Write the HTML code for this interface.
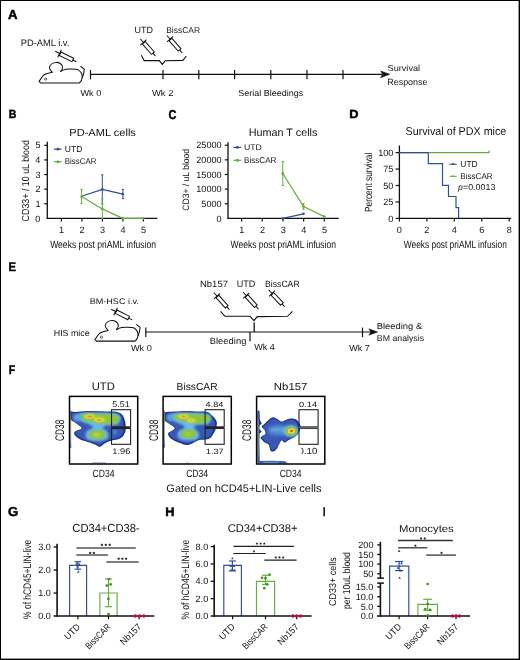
<!DOCTYPE html><html><head><meta charset="utf-8"><style>html,body{margin:0;padding:0;background:#fff;}svg{display:block;font-family:"Liberation Sans",sans-serif;text-rendering:geometricPrecision;will-change:transform;}</style></head><body><svg width="520" height="660" viewBox="0 0 520 660"><rect x="0" y="0" width="520" height="660" fill="#000"/>
<rect x="1" y="1" width="517.6" height="657.6" fill="#fff"/>
<text x="8.09" y="18.58" font-size="12.99" font-weight="bold" font-style="normal" textLength="9.55" lengthAdjust="spacingAndGlyphs" fill="#000" stroke="#000" stroke-width="0.45">A</text>
<text x="8.63" y="118.28" font-size="11.83" font-weight="bold" font-style="normal" textLength="7.65" lengthAdjust="spacingAndGlyphs" fill="#000" stroke="#000" stroke-width="0.45">B</text>
<text x="168.38" y="118.68" font-size="12.80" font-weight="bold" font-style="normal" textLength="7.89" lengthAdjust="spacingAndGlyphs" fill="#000" stroke="#000" stroke-width="0.45">C</text>
<text x="349.29" y="118.28" font-size="11.83" font-weight="bold" font-style="normal" textLength="9.23" lengthAdjust="spacingAndGlyphs" fill="#000" stroke="#000" stroke-width="0.45">D</text>
<text x="8.49" y="271.38" font-size="12.41" font-weight="bold" font-style="normal" textLength="7.51" lengthAdjust="spacingAndGlyphs" fill="#000" stroke="#000" stroke-width="0.45">E</text>
<text x="8.64" y="373.68" font-size="12.41" font-weight="bold" font-style="normal" textLength="6.42" lengthAdjust="spacingAndGlyphs" fill="#000" stroke="#000" stroke-width="0.45">F</text>
<text x="8.09" y="515.98" font-size="13.09" font-weight="bold" font-style="normal" textLength="10.32" lengthAdjust="spacingAndGlyphs" fill="#000" stroke="#000" stroke-width="0.45">G</text>
<text x="165.39" y="515.68" font-size="12.55" font-weight="bold" font-style="normal" textLength="9.25" lengthAdjust="spacingAndGlyphs" fill="#000" stroke="#000" stroke-width="0.45">H</text>
<text x="322.96" y="515.78" font-size="12.41" font-weight="bold" font-style="normal" textLength="2.41" lengthAdjust="spacingAndGlyphs" fill="#000" stroke="#000" stroke-width="0.45">I</text>
<g transform="translate(0,0)" stroke="#111" fill="none" stroke-width="1.05" stroke-linejoin="round">
<path d="M39.1,81.4 L40.6,82.9 L79.3,82.9 C81,81.5 82.3,78 82.2,75.9 C82,73.5 80,71 77.9,69.6 C75,68.8 68,68.8 65.8,69.3 C64,69.7 62,70.6 60.6,71.5 C62.2,70 62.8,68 62.5,66.7 C62,64 59,62.3 56.2,62.4 C53,62.5 50,64.5 49.5,67.2 C49.3,68.8 50.2,70 52.4,72.3 L47.2,73.6 C45,74.3 43.5,75 42.6,76.3 L39.1,81.4 Z"/><path d="M80.5,66.25 L84.3,69.1 C84.2,71 83.5,75 82.2,77.8"/><circle cx="45.65" cy="79" r="1.15" stroke-width="0.65"/>
</g>
<g transform="translate(55.2,51.3) rotate(26.2) scale(1.0)" stroke="#111" fill="none" stroke-width="1.0">
<line x1="0" y1="0" x2="5.5" y2="0"/><line x1="4.9" y1="-4.2" x2="4.9" y2="4.2"/><rect x="5.5" y="-1.9" width="14.1" height="3.8"/><line x1="19.6" y1="0" x2="23.6" y2="0"/>
</g>
<g transform="translate(140.2,38.7) rotate(48.7) scale(0.98)" stroke="#111" fill="none" stroke-width="1.0">
<line x1="0" y1="0" x2="5.5" y2="0"/><line x1="4.9" y1="-4.2" x2="4.9" y2="4.2"/><rect x="5.5" y="-1.9" width="14.1" height="3.8"/><line x1="19.6" y1="0" x2="23.6" y2="0"/>
</g>
<g transform="translate(166.9,35.5) rotate(48.6) scale(0.98)" stroke="#111" fill="none" stroke-width="1.0">
<line x1="0" y1="0" x2="5.5" y2="0"/><line x1="4.9" y1="-4.2" x2="4.9" y2="4.2"/><rect x="5.5" y="-1.9" width="14.1" height="3.8"/><line x1="19.6" y1="0" x2="23.6" y2="0"/>
</g>
<path d="M141.3,55.2 L144.2,60.6 L159.2,60.6 L162.3,64.4 L165.2,60.8 L182.9,60.4 L186.3,56" stroke="#111" stroke-width="1.1" fill="none"/>
<line x1="90.5" y1="74.3" x2="382" y2="74.3" stroke="#111" stroke-width="1.2"/>
<line x1="90.5" y1="70" x2="90.5" y2="79.3" stroke="#111" stroke-width="1.2"/>
<line x1="163" y1="70" x2="163" y2="79.3" stroke="#111" stroke-width="1.2"/>
<line x1="198.8" y1="70" x2="198.8" y2="79.3" stroke="#111" stroke-width="1.2"/>
<line x1="234.6" y1="70" x2="234.6" y2="79.3" stroke="#111" stroke-width="1.2"/>
<line x1="270.8" y1="70" x2="270.8" y2="79.3" stroke="#111" stroke-width="1.2"/>
<line x1="307" y1="70" x2="307" y2="79.3" stroke="#111" stroke-width="1.2"/>
<line x1="343" y1="70" x2="343" y2="79.3" stroke="#111" stroke-width="1.2"/>
<path d="M389.8,74.3 L380.6,70.9 L382.6,74.3 L380.6,77.7 Z" stroke="#111" stroke-width="0.5" fill="#111"/>
<text x="20.76" y="46.00" font-size="9.38" font-weight="normal" font-style="normal" textLength="48.61" lengthAdjust="spacingAndGlyphs" fill="#111">PD-AML i.v.</text>
<text x="134.53" y="33.10" font-size="8.99" font-weight="normal" font-style="normal" textLength="18.37" lengthAdjust="spacingAndGlyphs" fill="#111">UTD</text>
<text x="166.22" y="33.00" font-size="8.55" font-weight="normal" font-style="normal" textLength="33.76" lengthAdjust="spacingAndGlyphs" fill="#111">BissCAR</text>
<text x="80.45" y="95.60" font-size="8.69" font-weight="normal" font-style="normal" textLength="20.89" lengthAdjust="spacingAndGlyphs" fill="#111">Wk 0</text>
<text x="151.95" y="95.60" font-size="8.69" font-weight="normal" font-style="normal" textLength="21.55" lengthAdjust="spacingAndGlyphs" fill="#111">Wk 2</text>
<text x="238.35" y="95.50" font-size="8.69" font-weight="normal" font-style="normal" textLength="64.99" lengthAdjust="spacingAndGlyphs" fill="#111">Serial Bleedings</text>
<text x="387.59" y="70.60" font-size="8.55" font-weight="normal" font-style="normal" textLength="32.52" lengthAdjust="spacingAndGlyphs" fill="#111">Survival</text>
<text x="387.29" y="85.00" font-size="8.99" font-weight="normal" font-style="normal" textLength="40.14" lengthAdjust="spacingAndGlyphs" fill="#111">Response</text>
<text x="69.32" y="135.90" font-size="10.34" font-weight="normal" font-style="normal" textLength="66.57" lengthAdjust="spacingAndGlyphs" fill="#111">PD-AML cells</text>
<line x1="47.3" y1="141.8" x2="47.3" y2="219.0" stroke="#111" stroke-width="1.3"/>
<line x1="46.699999999999996" y1="218.4" x2="157.3" y2="218.4" stroke="#111" stroke-width="1.3"/>
<line x1="44.2" y1="203.78" x2="47.3" y2="203.78" stroke="#111" stroke-width="1.2"/>
<line x1="44.2" y1="189.16" x2="47.3" y2="189.16" stroke="#111" stroke-width="1.2"/>
<line x1="44.2" y1="174.54000000000002" x2="47.3" y2="174.54000000000002" stroke="#111" stroke-width="1.2"/>
<line x1="44.2" y1="159.92000000000002" x2="47.3" y2="159.92000000000002" stroke="#111" stroke-width="1.2"/>
<line x1="44.2" y1="145.3" x2="47.3" y2="145.3" stroke="#111" stroke-width="1.2"/>
<line x1="61.4" y1="218.4" x2="61.4" y2="221.6" stroke="#111" stroke-width="1.2"/>
<line x1="81.9" y1="218.4" x2="81.9" y2="221.6" stroke="#111" stroke-width="1.2"/>
<line x1="102.4" y1="218.4" x2="102.4" y2="221.6" stroke="#111" stroke-width="1.2"/>
<line x1="122.9" y1="218.4" x2="122.9" y2="221.6" stroke="#111" stroke-width="1.2"/>
<line x1="143.4" y1="218.4" x2="143.4" y2="221.6" stroke="#111" stroke-width="1.2"/>
<text x="35.37" y="221.55" font-size="9.10" font-weight="normal" font-style="normal" textLength="5.06" lengthAdjust="spacingAndGlyphs" fill="#111">0</text>
<text x="35.46" y="206.93" font-size="9.10" font-weight="normal" font-style="normal" textLength="5.06" lengthAdjust="spacingAndGlyphs" fill="#111">1</text>
<text x="35.50" y="192.31" font-size="9.10" font-weight="normal" font-style="normal" textLength="5.06" lengthAdjust="spacingAndGlyphs" fill="#111">2</text>
<text x="35.41" y="177.69" font-size="9.10" font-weight="normal" font-style="normal" textLength="5.06" lengthAdjust="spacingAndGlyphs" fill="#111">3</text>
<text x="35.32" y="163.07" font-size="9.10" font-weight="normal" font-style="normal" textLength="5.06" lengthAdjust="spacingAndGlyphs" fill="#111">4</text>
<text x="35.41" y="148.45" font-size="9.10" font-weight="normal" font-style="normal" textLength="5.06" lengthAdjust="spacingAndGlyphs" fill="#111">5</text>
<text x="58.94" y="232.80" font-size="9.10" font-weight="normal" font-style="normal" textLength="5.06" lengthAdjust="spacingAndGlyphs" fill="#111">1</text>
<text x="79.57" y="232.80" font-size="9.10" font-weight="normal" font-style="normal" textLength="5.06" lengthAdjust="spacingAndGlyphs" fill="#111">2</text>
<text x="100.07" y="232.80" font-size="9.10" font-weight="normal" font-style="normal" textLength="5.06" lengthAdjust="spacingAndGlyphs" fill="#111">3</text>
<text x="120.62" y="232.80" font-size="9.10" font-weight="normal" font-style="normal" textLength="5.06" lengthAdjust="spacingAndGlyphs" fill="#111">4</text>
<text x="141.07" y="232.80" font-size="9.10" font-weight="normal" font-style="normal" textLength="5.06" lengthAdjust="spacingAndGlyphs" fill="#111">5</text>
<text x="50.16" y="247.60" font-size="10.48" font-weight="normal" font-style="normal" textLength="105.89" lengthAdjust="spacingAndGlyphs" fill="#111">Weeks post priAML infusion</text>
<text x="-221.44" y="28.90" font-size="10.21" font-weight="normal" font-style="normal" textLength="81.31" lengthAdjust="spacingAndGlyphs" fill="#111" transform="rotate(-90)">CD33+ / 10 uL blood</text>
<line x1="81.6" y1="196.3" x2="102.3" y2="189.4" stroke="#2f4f92" stroke-width="1.2"/>
<line x1="102.3" y1="189.4" x2="122.9" y2="194.1" stroke="#2f4f92" stroke-width="1.2"/>
<line x1="102.3" y1="174.8" x2="102.3" y2="204.0" stroke="#2f4f92" stroke-width="1.0"/>
<line x1="101.2" y1="174.8" x2="103.39999999999999" y2="174.8" stroke="#2f4f92" stroke-width="1.0"/>
<line x1="101.2" y1="204.0" x2="103.39999999999999" y2="204.0" stroke="#2f4f92" stroke-width="1.0"/>
<line x1="122.9" y1="189.4" x2="122.9" y2="198.6" stroke="#2f4f92" stroke-width="1.0"/>
<line x1="121.80000000000001" y1="189.4" x2="124.0" y2="189.4" stroke="#2f4f92" stroke-width="1.0"/>
<line x1="121.80000000000001" y1="198.6" x2="124.0" y2="198.6" stroke="#2f4f92" stroke-width="1.0"/>
<circle cx="102.3" cy="189.4" r="1.3" fill="#2f4f92"/>
<circle cx="122.9" cy="194.1" r="1.3" fill="#2f4f92"/>
<line x1="81.6" y1="196.4" x2="102.3" y2="208.9" stroke="#66ad3e" stroke-width="1.2"/>
<line x1="102.3" y1="208.9" x2="122.7" y2="218.4" stroke="#66ad3e" stroke-width="1.2"/>
<line x1="122.7" y1="218.4" x2="143.3" y2="218.4" stroke="#66ad3e" stroke-width="1.2"/>
<line x1="81.6" y1="189.4" x2="81.6" y2="203.6" stroke="#66ad3e" stroke-width="1.0"/>
<line x1="80.5" y1="189.4" x2="82.69999999999999" y2="189.4" stroke="#66ad3e" stroke-width="1.0"/>
<line x1="80.5" y1="203.6" x2="82.69999999999999" y2="203.6" stroke="#66ad3e" stroke-width="1.0"/>
<line x1="102.3" y1="198.8" x2="102.3" y2="218.4" stroke="#66ad3e" stroke-width="1.0"/>
<line x1="101.2" y1="198.8" x2="103.39999999999999" y2="198.8" stroke="#66ad3e" stroke-width="1.0"/>
<line x1="101.2" y1="218.4" x2="103.39999999999999" y2="218.4" stroke="#66ad3e" stroke-width="1.0"/>
<circle cx="81.6" cy="196.4" r="1.3" fill="#66ad3e"/>
<circle cx="102.3" cy="208.9" r="1.3" fill="#66ad3e"/>
<circle cx="122.7" cy="218.4" r="1.3" fill="#66ad3e"/>
<circle cx="143.3" cy="218.4" r="1.3" fill="#66ad3e"/>
<line x1="54" y1="149.2" x2="61.7" y2="149.2" stroke="#2f4f92" stroke-width="1.2"/>
<circle cx="57.9" cy="149.2" r="1.35" fill="#2f4f92"/>
<line x1="54" y1="161.7" x2="61.7" y2="161.7" stroke="#66ad3e" stroke-width="1.2"/>
<circle cx="57.9" cy="161.7" r="1.5" fill="#66ad3e"/>
<text x="64.86" y="151.90" font-size="8.70" font-weight="normal" font-style="normal" textLength="17.42" lengthAdjust="spacingAndGlyphs" fill="#111">UTD</text>
<text x="64.87" y="164.40" font-size="8.41" font-weight="normal" font-style="normal" textLength="31.49" lengthAdjust="spacingAndGlyphs" fill="#111">BissCAR</text>
<text x="248.74" y="135.80" font-size="10.76" font-weight="normal" font-style="normal" textLength="68.64" lengthAdjust="spacingAndGlyphs" fill="#111">Human T cells</text>
<line x1="228.0" y1="142.3" x2="228.0" y2="219.0" stroke="#111" stroke-width="1.3"/>
<line x1="227.4" y1="218.4" x2="338.8" y2="218.4" stroke="#111" stroke-width="1.3"/>
<line x1="224.8" y1="203.76" x2="228.0" y2="203.76" stroke="#111" stroke-width="1.2"/>
<line x1="224.8" y1="189.12" x2="228.0" y2="189.12" stroke="#111" stroke-width="1.2"/>
<line x1="224.8" y1="174.48000000000002" x2="228.0" y2="174.48000000000002" stroke="#111" stroke-width="1.2"/>
<line x1="224.8" y1="159.84" x2="228.0" y2="159.84" stroke="#111" stroke-width="1.2"/>
<line x1="224.8" y1="145.2" x2="228.0" y2="145.2" stroke="#111" stroke-width="1.2"/>
<line x1="241.6" y1="218.4" x2="241.6" y2="221.6" stroke="#111" stroke-width="1.2"/>
<line x1="262.28" y1="218.4" x2="262.28" y2="221.6" stroke="#111" stroke-width="1.2"/>
<line x1="282.96" y1="218.4" x2="282.96" y2="221.6" stroke="#111" stroke-width="1.2"/>
<line x1="303.64" y1="218.4" x2="303.64" y2="221.6" stroke="#111" stroke-width="1.2"/>
<line x1="324.32" y1="218.4" x2="324.32" y2="221.6" stroke="#111" stroke-width="1.2"/>
<text x="216.57" y="221.55" font-size="9.10" font-weight="normal" font-style="normal" textLength="5.06" lengthAdjust="spacingAndGlyphs" fill="#111">0</text>
<text x="201.37" y="206.91" font-size="9.10" font-weight="normal" font-style="normal" textLength="20.24" lengthAdjust="spacingAndGlyphs" fill="#111">5000</text>
<text x="196.32" y="192.27" font-size="9.10" font-weight="normal" font-style="normal" textLength="25.31" lengthAdjust="spacingAndGlyphs" fill="#111">10000</text>
<text x="196.32" y="177.63" font-size="9.10" font-weight="normal" font-style="normal" textLength="25.31" lengthAdjust="spacingAndGlyphs" fill="#111">15000</text>
<text x="196.32" y="162.99" font-size="9.10" font-weight="normal" font-style="normal" textLength="25.31" lengthAdjust="spacingAndGlyphs" fill="#111">20000</text>
<text x="196.32" y="148.35" font-size="9.10" font-weight="normal" font-style="normal" textLength="25.31" lengthAdjust="spacingAndGlyphs" fill="#111">25000</text>
<text x="239.14" y="232.80" font-size="9.10" font-weight="normal" font-style="normal" textLength="5.06" lengthAdjust="spacingAndGlyphs" fill="#111">1</text>
<text x="259.95" y="232.80" font-size="9.10" font-weight="normal" font-style="normal" textLength="5.06" lengthAdjust="spacingAndGlyphs" fill="#111">2</text>
<text x="280.63" y="232.80" font-size="9.10" font-weight="normal" font-style="normal" textLength="5.06" lengthAdjust="spacingAndGlyphs" fill="#111">3</text>
<text x="301.36" y="232.80" font-size="9.10" font-weight="normal" font-style="normal" textLength="5.06" lengthAdjust="spacingAndGlyphs" fill="#111">4</text>
<text x="321.99" y="232.80" font-size="9.10" font-weight="normal" font-style="normal" textLength="5.06" lengthAdjust="spacingAndGlyphs" fill="#111">5</text>
<text x="230.56" y="247.60" font-size="10.48" font-weight="normal" font-style="normal" textLength="105.39" lengthAdjust="spacingAndGlyphs" fill="#111">Weeks post priAML infusion</text>
<text x="-210.73" y="189.10" font-size="9.24" font-weight="normal" font-style="normal" textLength="61.81" lengthAdjust="spacingAndGlyphs" fill="#111" transform="rotate(-90)">CD3+ / uL blood</text>
<line x1="282.8" y1="218.4" x2="303.5" y2="213.8" stroke="#2f4f92" stroke-width="1.2"/>
<circle cx="282.8" cy="218.4" r="1.2" fill="#2f4f92"/>
<circle cx="303.5" cy="213.8" r="1.3" fill="#2f4f92"/>
<line x1="282.8" y1="173.5" x2="303.5" y2="206.5" stroke="#66ad3e" stroke-width="1.3"/>
<line x1="303.5" y1="206.5" x2="324.3" y2="216.6" stroke="#66ad3e" stroke-width="1.3"/>
<line x1="282.8" y1="161.5" x2="282.8" y2="185.5" stroke="#66ad3e" stroke-width="1.0"/>
<line x1="281.6" y1="161.5" x2="284.0" y2="161.5" stroke="#66ad3e" stroke-width="1.0"/>
<line x1="281.6" y1="185.5" x2="284.0" y2="185.5" stroke="#66ad3e" stroke-width="1.0"/>
<line x1="303.5" y1="203.5" x2="303.5" y2="209.2" stroke="#66ad3e" stroke-width="1.0"/>
<line x1="302.3" y1="203.5" x2="304.7" y2="203.5" stroke="#66ad3e" stroke-width="1.0"/>
<line x1="302.3" y1="209.2" x2="304.7" y2="209.2" stroke="#66ad3e" stroke-width="1.0"/>
<circle cx="282.8" cy="173.5" r="1.4" fill="#66ad3e"/>
<circle cx="303.5" cy="206.5" r="1.4" fill="#66ad3e"/>
<circle cx="324.3" cy="216.6" r="1.4" fill="#66ad3e"/>
<line x1="233.4" y1="147.4" x2="241.3" y2="147.4" stroke="#2f4f92" stroke-width="1.2"/>
<circle cx="237.4" cy="147.4" r="1.35" fill="#2f4f92"/>
<line x1="233.4" y1="160.3" x2="241.3" y2="160.3" stroke="#66ad3e" stroke-width="1.2"/>
<circle cx="237.4" cy="160.3" r="1.5" fill="#66ad3e"/>
<text x="244.05" y="150.10" font-size="8.12" font-weight="normal" font-style="normal" textLength="17.84" lengthAdjust="spacingAndGlyphs" fill="#111">UTD</text>
<text x="244.05" y="163.10" font-size="8.55" font-weight="normal" font-style="normal" textLength="32.31" lengthAdjust="spacingAndGlyphs" fill="#111">BissCAR</text>
<text x="405.52" y="134.90" font-size="11.45" font-weight="normal" font-style="normal" textLength="100.79" lengthAdjust="spacingAndGlyphs" fill="#111">Survival of PDX mice</text>
<line x1="399.4" y1="145.5" x2="399.4" y2="219.0" stroke="#111" stroke-width="1.3"/>
<line x1="398.79999999999995" y1="218.4" x2="511.1" y2="218.4" stroke="#111" stroke-width="1.3"/>
<line x1="395.6" y1="218.4" x2="399.4" y2="218.4" stroke="#111" stroke-width="1.2"/>
<line x1="395.6" y1="201.95000000000002" x2="399.4" y2="201.95000000000002" stroke="#111" stroke-width="1.2"/>
<line x1="395.6" y1="185.5" x2="399.4" y2="185.5" stroke="#111" stroke-width="1.2"/>
<line x1="395.6" y1="169.05" x2="399.4" y2="169.05" stroke="#111" stroke-width="1.2"/>
<line x1="395.6" y1="152.60000000000002" x2="399.4" y2="152.60000000000002" stroke="#111" stroke-width="1.2"/>
<line x1="399.4" y1="218.4" x2="399.4" y2="221.6" stroke="#111" stroke-width="1.2"/>
<line x1="426.84999999999997" y1="218.4" x2="426.84999999999997" y2="221.6" stroke="#111" stroke-width="1.2"/>
<line x1="454.29999999999995" y1="218.4" x2="454.29999999999995" y2="221.6" stroke="#111" stroke-width="1.2"/>
<line x1="481.75" y1="218.4" x2="481.75" y2="221.6" stroke="#111" stroke-width="1.2"/>
<line x1="509.2" y1="218.4" x2="509.2" y2="221.6" stroke="#111" stroke-width="1.2"/>
<text x="388.27" y="221.55" font-size="9.10" font-weight="normal" font-style="normal" textLength="5.06" lengthAdjust="spacingAndGlyphs" fill="#111">0</text>
<text x="383.26" y="205.10" font-size="9.10" font-weight="normal" font-style="normal" textLength="10.12" lengthAdjust="spacingAndGlyphs" fill="#111">25</text>
<text x="383.22" y="188.65" font-size="9.10" font-weight="normal" font-style="normal" textLength="10.12" lengthAdjust="spacingAndGlyphs" fill="#111">50</text>
<text x="383.26" y="172.20" font-size="9.10" font-weight="normal" font-style="normal" textLength="10.12" lengthAdjust="spacingAndGlyphs" fill="#111">75</text>
<text x="378.17" y="155.75" font-size="9.10" font-weight="normal" font-style="normal" textLength="15.18" lengthAdjust="spacingAndGlyphs" fill="#111">100</text>
<text x="396.85" y="232.80" font-size="9.10" font-weight="normal" font-style="normal" textLength="5.06" lengthAdjust="spacingAndGlyphs" fill="#111">0</text>
<text x="424.32" y="232.80" font-size="9.10" font-weight="normal" font-style="normal" textLength="5.06" lengthAdjust="spacingAndGlyphs" fill="#111">2</text>
<text x="451.82" y="232.80" font-size="9.10" font-weight="normal" font-style="normal" textLength="5.06" lengthAdjust="spacingAndGlyphs" fill="#111">4</text>
<text x="479.18" y="232.80" font-size="9.10" font-weight="normal" font-style="normal" textLength="5.06" lengthAdjust="spacingAndGlyphs" fill="#111">6</text>
<text x="506.65" y="232.80" font-size="9.10" font-weight="normal" font-style="normal" textLength="5.06" lengthAdjust="spacingAndGlyphs" fill="#111">8</text>
<text x="403.76" y="247.60" font-size="10.62" font-weight="normal" font-style="normal" textLength="103.18" lengthAdjust="spacingAndGlyphs" fill="#111">Weeks post priAML infusion</text>
<text x="-212.07" y="371.60" font-size="10.34" font-weight="normal" font-style="normal" textLength="59.44" lengthAdjust="spacingAndGlyphs" fill="#111" transform="rotate(-90)">Percent survival</text>
<path d="M399.4,152.6 L489,152.6 L489,150.4" stroke="#66ad3e" stroke-width="1.1" fill="none"/>
<path d="M399.4,152.6 L428.3,152.6 L428.3,163.6 L442.5,163.6 L442.5,185.4 L448.5,185.4 L448.5,196.5 L456,196.5 L456,207.6 L458.6,207.6 L458.6,218.4" stroke="#2f4f92" stroke-width="1.2" fill="none"/>
<line x1="449.5" y1="164.2" x2="456.6" y2="164.2" stroke="#2f4f92" stroke-width="1.1"/>
<path d="M453,162.4 L454.6,165 L451.4,165 Z" fill="#2f4f92"/>
<line x1="449.5" y1="176.3" x2="456.6" y2="176.3" stroke="#66ad3e" stroke-width="1.1"/>
<path d="M453,174.7 L454.4,177 L451.6,177 Z" fill="#66ad3e"/>
<text x="460.37" y="166.80" font-size="8.70" font-weight="normal" font-style="normal" textLength="17.31" lengthAdjust="spacingAndGlyphs" fill="#111">UTD</text>
<text x="460.35" y="179.30" font-size="8.41" font-weight="normal" font-style="normal" textLength="32.31" lengthAdjust="spacingAndGlyphs" fill="#111">BissCAR</text>
<text x="462.95" y="190.40" font-size="8.57" font-weight="normal" font-style="normal" textLength="32.42" lengthAdjust="spacingAndGlyphs" fill="#111">=0.0013</text>
<text x="457.9" y="190.4" font-size="8.57" font-style="italic" fill="#111">p</text>
<g transform="translate(55.8,258.2)" stroke="#111" fill="none" stroke-width="1.05" stroke-linejoin="round">
<path d="M39.1,81.4 L40.6,82.9 L79.3,82.9 C81,81.5 82.3,78 82.2,75.9 C82,73.5 80,71 77.9,69.6 C75,68.8 68,68.8 65.8,69.3 C64,69.7 62,70.6 60.6,71.5 C62.2,70 62.8,68 62.5,66.7 C62,64 59,62.3 56.2,62.4 C53,62.5 50,64.5 49.5,67.2 C49.3,68.8 50.2,70 52.4,72.3 L47.2,73.6 C45,74.3 43.5,75 42.6,76.3 L39.1,81.4 Z"/><path d="M80.5,66.25 L84.3,69.1 C84.2,71 83.5,75 82.2,77.8"/><circle cx="45.65" cy="79" r="1.15" stroke-width="0.65"/>
</g>
<g transform="translate(111.2,309.2) rotate(27.0) scale(1.0)" stroke="#111" fill="none" stroke-width="1.0">
<line x1="0" y1="0" x2="5.5" y2="0"/><line x1="4.9" y1="-4.2" x2="4.9" y2="4.2"/><rect x="5.5" y="-1.9" width="14.1" height="3.8"/><line x1="19.6" y1="0" x2="23.6" y2="0"/>
</g>
<g transform="translate(213.75,292.5) rotate(47.6) scale(0.98)" stroke="#111" fill="none" stroke-width="1.0">
<line x1="0" y1="0" x2="5.5" y2="0"/><line x1="4.9" y1="-4.2" x2="4.9" y2="4.2"/><rect x="5.5" y="-1.9" width="14.1" height="3.8"/><line x1="19.6" y1="0" x2="23.6" y2="0"/>
</g>
<g transform="translate(243.0,292.0) rotate(48.0) scale(0.98)" stroke="#111" fill="none" stroke-width="1.0">
<line x1="0" y1="0" x2="5.5" y2="0"/><line x1="4.9" y1="-4.2" x2="4.9" y2="4.2"/><rect x="5.5" y="-1.9" width="14.1" height="3.8"/><line x1="19.6" y1="0" x2="23.6" y2="0"/>
</g>
<g transform="translate(268.75,290.0) rotate(46.5) scale(0.98)" stroke="#111" fill="none" stroke-width="1.0">
<line x1="0" y1="0" x2="5.5" y2="0"/><line x1="4.9" y1="-4.2" x2="4.9" y2="4.2"/><rect x="5.5" y="-1.9" width="14.1" height="3.8"/><line x1="19.6" y1="0" x2="23.6" y2="0"/>
</g>
<path d="M220.5,311.3 L225,316.3 L250,316.3 L254.0,320.6 L257.2,316.6 L287.5,316.3 L292.5,311.3" stroke="#111" stroke-width="1.1" fill="none"/>
<line x1="254.2" y1="322.4" x2="254.2" y2="332" stroke="#111" stroke-width="1.3"/>
<line x1="145.8" y1="332" x2="371" y2="332" stroke="#111" stroke-width="1.2"/>
<line x1="145.8" y1="327.6" x2="145.8" y2="337.0" stroke="#111" stroke-width="1.2"/>
<line x1="250.0" y1="332" x2="250.0" y2="341.3" stroke="#111" stroke-width="1.2"/>
<line x1="362.5" y1="327.6" x2="362.5" y2="337.2" stroke="#111" stroke-width="1.2"/>
<path d="M377.6,332 L368.8,328.8 L370.8,332 L368.8,335.2 Z" stroke="#111" stroke-width="0.5" fill="#111"/>
<text x="89.67" y="304.30" font-size="8.14" font-weight="normal" font-style="normal" textLength="49.25" lengthAdjust="spacingAndGlyphs" fill="#111">BM-HSC i.v.</text>
<text x="53.79" y="335.70" font-size="8.69" font-weight="normal" font-style="normal" textLength="35.87" lengthAdjust="spacingAndGlyphs" fill="#111">HIS mice</text>
<text x="130.95" y="350.60" font-size="8.69" font-weight="normal" font-style="normal" textLength="20.89" lengthAdjust="spacingAndGlyphs" fill="#111">Wk 0</text>
<text x="199.99" y="286.70" font-size="9.10" font-weight="normal" font-style="normal" textLength="28.00" lengthAdjust="spacingAndGlyphs" fill="#111">Nb157</text>
<text x="236.82" y="286.70" font-size="9.57" font-weight="normal" font-style="normal" textLength="18.59" lengthAdjust="spacingAndGlyphs" fill="#111">UTD</text>
<text x="265.06" y="286.70" font-size="9.10" font-weight="normal" font-style="normal" textLength="34.59" lengthAdjust="spacingAndGlyphs" fill="#111">BissCAR</text>
<text x="209.75" y="344.20" font-size="9.10" font-weight="normal" font-style="normal" textLength="36.64" lengthAdjust="spacingAndGlyphs" fill="#111">Bleeding</text>
<text x="254.20" y="350.40" font-size="8.83" font-weight="normal" font-style="normal" textLength="20.59" lengthAdjust="spacingAndGlyphs" fill="#111">Wk 4</text>
<text x="349.20" y="350.70" font-size="8.69" font-weight="normal" font-style="normal" textLength="20.52" lengthAdjust="spacingAndGlyphs" fill="#111">Wk 7</text>
<text x="376.75" y="328.80" font-size="8.69" font-weight="normal" font-style="normal" textLength="45.41" lengthAdjust="spacingAndGlyphs" fill="#111">Bleeding &</text>
<text x="376.80" y="341.30" font-size="8.55" font-weight="normal" font-style="normal" textLength="47.27" lengthAdjust="spacingAndGlyphs" fill="#111">BM analysis</text>
<defs><filter id="b05" x="-20%" y="-20%" width="140%" height="140%"><feGaussianBlur stdDeviation="0.45"/></filter><filter id="b03" x="-50%" y="-20%" width="200%" height="140%"><feGaussianBlur stdDeviation="0.3"/></filter><filter id="b04" x="-20%" y="-20%" width="140%" height="140%"><feGaussianBlur stdDeviation="0.4"/></filter><filter id="b06" x="-30%" y="-30%" width="160%" height="160%"><feGaussianBlur stdDeviation="0.6"/></filter><filter id="b08" x="-30%" y="-30%" width="160%" height="160%"><feGaussianBlur stdDeviation="0.8"/></filter><filter id="b1" x="-30%" y="-30%" width="160%" height="160%"><feGaussianBlur stdDeviation="0.9"/></filter><filter id="b15" x="-50%" y="-50%" width="200%" height="200%"><feGaussianBlur stdDeviation="1.4"/></filter><clipPath id="cpU"><rect x="70.2" y="397.2" width="66.8" height="66.2"/></clipPath><clipPath id="cpB"><rect x="163.8" y="397.0" width="66.8" height="66.4"/></clipPath><clipPath id="cpN"><rect x="257.3" y="397.0" width="66.8" height="66.4"/></clipPath></defs>
<g clip-path="url(#cpU)">
<path d="M70.50,411.80 C71.32,410.78 72.73,412.03 75.40,411.90 C78.07,411.77 82.60,411.12 86.50,411.00 C90.40,410.88 94.70,411.10 98.80,411.20 C102.90,411.30 108.03,411.45 111.10,411.60 C114.17,411.75 115.35,411.57 117.20,412.10 C119.05,412.63 120.97,413.52 122.20,414.80 C123.43,416.08 124.00,417.95 124.60,419.80 C125.20,421.65 125.70,423.85 125.80,425.90 C125.90,427.95 125.80,430.25 125.20,432.10 C124.60,433.95 123.53,435.77 122.20,437.00 C120.87,438.23 119.05,438.88 117.20,439.50 C115.35,440.12 113.15,440.08 111.10,440.70 C109.05,441.32 106.75,442.18 104.90,443.20 C103.05,444.22 101.63,446.60 100.00,446.80 C98.37,447.00 97.15,445.22 95.10,444.40 C93.05,443.58 90.17,442.72 87.70,441.90 C85.23,441.08 82.35,440.52 80.30,439.50 C78.25,438.48 76.42,436.93 75.40,435.80 C74.38,434.67 74.13,433.50 74.20,432.70 C74.27,431.90 74.57,431.68 75.80,431.00 C77.03,430.32 81.05,429.50 81.60,428.60 C82.15,427.70 80.33,426.70 79.10,425.60 C77.87,424.50 75.53,422.93 74.20,422.00 C72.87,421.07 71.72,420.67 71.10,420.00 C70.48,419.33 70.60,419.37 70.50,418.00 C70.40,416.63 69.68,412.82 70.50,411.80 Z" fill="#1f3090" filter="url(#b04)"/>
<path d="M72.24,413.19 C73.00,412.27 74.31,413.40 76.79,413.28 C79.27,413.16 83.49,412.57 87.12,412.46 C90.74,412.36 94.74,412.55 98.55,412.65 C102.37,412.74 107.14,412.87 109.99,413.01 C112.85,413.15 113.95,412.98 115.67,413.46 C117.39,413.95 119.17,414.75 120.32,415.92 C121.46,417.09 121.99,418.79 122.55,420.47 C123.11,422.16 123.57,424.16 123.66,426.02 C123.76,427.89 123.66,429.98 123.11,431.66 C122.55,433.35 121.56,435.00 120.32,436.12 C119.08,437.25 117.39,437.84 115.67,438.40 C113.95,438.96 111.90,438.93 109.99,439.49 C108.09,440.05 105.95,440.84 104.23,441.77 C102.51,442.69 101.19,444.86 99.67,445.04 C98.15,445.22 97.02,443.60 95.11,442.86 C93.21,442.11 90.53,441.33 88.23,440.58 C85.94,439.84 83.26,439.32 81.35,438.40 C79.44,437.47 77.74,436.06 76.79,435.03 C75.85,434.00 75.61,432.94 75.68,432.21 C75.74,431.48 76.02,431.29 77.16,430.66 C78.31,430.04 82.05,429.30 82.56,428.48 C83.07,427.66 81.38,426.75 80.23,425.75 C79.09,424.75 76.92,423.32 75.68,422.47 C74.44,421.62 73.37,421.26 72.79,420.65 C72.22,420.05 72.33,420.08 72.24,418.83 C72.14,417.59 71.48,414.12 72.24,413.19 Z" fill="#3858b4" filter="url(#b06)"/>
<path d="M77.50,414.80 C78.42,413.67 80.25,413.05 84.00,412.70 C87.75,412.35 95.17,412.63 100.00,412.70 C104.83,412.77 109.75,412.72 113.00,413.10 C116.25,413.48 118.28,413.85 119.50,415.00 C120.72,416.15 120.80,418.37 120.30,420.00 C119.80,421.63 118.88,423.90 116.50,424.80 C114.12,425.70 108.25,424.87 106.00,425.40 C103.75,425.93 102.87,427.07 103.00,428.00 C103.13,428.93 105.90,429.83 106.80,431.00 C107.70,432.17 108.53,433.57 108.40,435.00 C108.27,436.43 107.90,438.57 106.00,439.60 C104.10,440.63 100.00,441.20 97.00,441.20 C94.00,441.20 89.92,440.63 88.00,439.60 C86.08,438.57 85.58,436.52 85.50,435.00 C85.42,433.48 86.28,431.67 87.50,430.50 C88.72,429.33 92.38,428.95 92.80,428.00 C93.22,427.05 91.47,425.73 90.00,424.80 C88.53,423.87 85.92,423.28 84.00,422.40 C82.08,421.52 79.58,420.77 78.50,419.50 C77.42,418.23 76.58,415.93 77.50,414.80 Z" fill="#6cb8e6" filter="url(#b08)"/>
<path d="M79.80,416.30 C80.37,415.55 80.63,414.65 84.00,414.30 C87.37,413.95 95.33,414.15 100.00,414.20 C104.67,414.25 108.97,414.22 112.00,414.60 C115.03,414.98 117.13,415.52 118.20,416.50 C119.27,417.48 119.02,419.38 118.40,420.50 C117.78,421.62 117.23,422.68 114.50,423.20 C111.77,423.72 105.58,423.80 102.00,423.60 C98.42,423.40 95.83,422.53 93.00,422.00 C90.17,421.47 87.07,420.93 85.00,420.40 C82.93,419.87 81.47,419.48 80.60,418.80 C79.73,418.12 79.23,417.05 79.80,416.30 Z" fill="#8cc43c" filter="url(#b08)"/>
<ellipse cx="97.00" cy="434.60" rx="8.40" ry="4.40" fill="#8cc43c" filter="url(#b08)" transform="rotate(0 97.00 434.60)"/>
<ellipse cx="96.60" cy="434.70" rx="3.80" ry="1.90" fill="#bcd63a" filter="url(#b08)" transform="rotate(0 96.60 434.70)"/>
<ellipse cx="114.80" cy="432.00" rx="1.80" ry="2.00" fill="#5c90d8" filter="url(#b08)" transform="rotate(0 114.80 432.00)"/>
<ellipse cx="77.50" cy="417.50" rx="4.00" ry="3.50" fill="#5aa6e0" filter="url(#b1)" transform="rotate(0 77.50 417.50)"/>
<ellipse cx="89.60" cy="416.30" rx="5.40" ry="2.10" fill="#eee236" filter="url(#b08)" transform="rotate(0 89.60 416.30)"/>
<ellipse cx="99.50" cy="419.70" rx="5.90" ry="2.20" fill="#eee236" filter="url(#b08)" transform="rotate(0 99.50 419.70)"/>
<ellipse cx="89.90" cy="416.35" rx="2.80" ry="0.85" fill="#ec8a2a" filter="url(#b05)" transform="rotate(0 89.90 416.35)"/>
<ellipse cx="99.30" cy="420.00" rx="2.80" ry="0.80" fill="#ec8a2a" filter="url(#b05)" transform="rotate(0 99.30 420.00)"/>
<linearGradient id="sg70" x1="0" y1="0" x2="0" y2="1"><stop offset="0" stop-color="#1f3090"/><stop offset="0.08" stop-color="#8a7a60"/><stop offset="0.25" stop-color="#9a8a50"/><stop offset="0.32" stop-color="#7aa860"/><stop offset="0.65" stop-color="#70a8b0"/><stop offset="0.8" stop-color="#5a90d0"/><stop offset="1" stop-color="#1f3090"/></linearGradient>
<rect x="70.1" y="410.8" width="1.1" height="37.19999999999999" fill="url(#sg70)" filter="url(#b03)"/>
<rect x="92.3" y="462.6" width="13.5" height="0.6" fill="#1f3090" opacity="0.8" filter="url(#b03)"/>
</g>
<g clip-path="url(#cpB)">
<path d="M164.80,412.60 C166.47,411.12 170.67,411.87 174.30,411.60 C177.93,411.33 182.50,411.00 186.60,411.00 C190.70,411.00 195.42,411.43 198.90,411.60 C202.38,411.77 205.45,411.47 207.50,412.00 C209.55,412.53 209.97,413.72 211.20,414.80 C212.43,415.88 213.97,417.27 214.90,418.50 C215.83,419.73 216.58,420.65 216.80,422.20 C217.02,423.75 216.72,425.95 216.20,427.80 C215.68,429.65 214.73,431.57 213.70,433.30 C212.67,435.03 211.43,437.17 210.00,438.20 C208.57,439.23 206.95,439.18 205.10,439.50 C203.25,439.82 200.95,439.48 198.90,440.10 C196.85,440.72 194.85,442.38 192.80,443.20 C190.75,444.02 188.65,445.00 186.60,445.00 C184.55,445.00 182.55,443.92 180.50,443.20 C178.45,442.48 176.15,441.73 174.30,440.70 C172.45,439.67 170.42,438.23 169.40,437.00 C168.38,435.77 167.80,434.33 168.20,433.30 C168.60,432.27 170.70,431.65 171.80,430.80 C172.90,429.95 175.00,429.22 174.80,428.20 C174.60,427.18 172.12,425.80 170.60,424.70 C169.08,423.60 166.75,422.30 165.70,421.60 C164.65,420.90 164.45,422.00 164.30,420.50 C164.15,419.00 163.13,414.08 164.80,412.60 Z" fill="#1f3090" filter="url(#b04)"/>
<path d="M166.50,413.95 C168.05,412.60 171.96,413.28 175.33,413.04 C178.71,412.79 182.96,412.49 186.77,412.49 C190.59,412.49 194.97,412.88 198.21,413.04 C201.45,413.19 204.30,412.91 206.21,413.40 C208.12,413.89 208.50,414.96 209.65,415.95 C210.80,416.93 212.22,418.19 213.09,419.32 C213.96,420.44 214.66,421.27 214.86,422.68 C215.06,424.09 214.78,426.09 214.30,427.78 C213.82,429.46 212.94,431.21 211.98,432.78 C211.02,434.36 209.87,436.30 208.54,437.24 C207.20,438.18 205.70,438.14 203.98,438.43 C202.26,438.71 200.12,438.41 198.21,438.97 C196.31,439.53 194.45,441.05 192.54,441.79 C190.63,442.54 188.68,443.43 186.77,443.43 C184.87,443.43 183.01,442.44 181.10,441.79 C179.19,441.14 177.06,440.46 175.33,439.52 C173.61,438.58 171.72,437.27 170.78,436.15 C169.83,435.03 169.29,433.72 169.66,432.78 C170.03,431.84 171.99,431.28 173.01,430.51 C174.03,429.73 175.99,429.07 175.80,428.14 C175.61,427.22 173.30,425.96 171.89,424.96 C170.48,423.96 168.31,422.77 167.34,422.14 C166.36,421.50 166.17,422.50 166.03,421.14 C165.90,419.77 164.95,415.30 166.50,413.95 Z" fill="#3858b4" filter="url(#b06)"/>
<path d="M171.00,414.60 C171.92,413.55 173.50,413.02 177.00,412.70 C180.50,412.38 187.33,412.62 192.00,412.70 C196.67,412.78 201.92,412.73 205.00,413.20 C208.08,413.67 209.50,414.37 210.50,415.50 C211.50,416.63 211.58,418.55 211.00,420.00 C210.42,421.45 209.33,423.40 207.00,424.20 C204.67,425.00 199.13,424.17 197.00,424.80 C194.87,425.43 194.10,426.97 194.20,428.00 C194.30,429.03 196.80,429.83 197.60,431.00 C198.40,432.17 199.10,433.63 199.00,435.00 C198.90,436.37 198.75,438.28 197.00,439.20 C195.25,440.12 191.33,440.50 188.50,440.50 C185.67,440.50 181.83,440.12 180.00,439.20 C178.17,438.28 177.58,436.45 177.50,435.00 C177.42,433.55 178.33,431.67 179.50,430.50 C180.67,429.33 184.08,428.95 184.50,428.00 C184.92,427.05 183.42,425.77 182.00,424.80 C180.58,423.83 177.75,423.17 176.00,422.20 C174.25,421.23 172.33,420.27 171.50,419.00 C170.67,417.73 170.08,415.65 171.00,414.60 Z" fill="#6cb8e6" filter="url(#b08)"/>
<path d="M173.20,416.00 C173.73,415.28 173.87,414.60 177.00,414.30 C180.13,414.00 187.58,414.12 192.00,414.20 C196.42,414.28 200.63,414.33 203.50,414.80 C206.37,415.27 208.25,416.03 209.20,417.00 C210.15,417.97 209.82,419.60 209.20,420.60 C208.58,421.60 207.87,422.55 205.50,423.00 C203.13,423.45 198.08,423.50 195.00,423.30 C191.92,423.10 189.83,422.32 187.00,421.80 C184.17,421.28 180.20,420.73 178.00,420.20 C175.80,419.67 174.60,419.30 173.80,418.60 C173.00,417.90 172.67,416.72 173.20,416.00 Z" fill="#8cc43c" filter="url(#b08)"/>
<ellipse cx="188.40" cy="433.90" rx="8.00" ry="4.30" fill="#8cc43c" filter="url(#b08)" transform="rotate(0 188.40 433.90)"/>
<ellipse cx="188.00" cy="434.00" rx="3.20" ry="1.60" fill="#a8d040" filter="url(#b08)" transform="rotate(0 188.00 434.00)"/>
<ellipse cx="170.50" cy="417.50" rx="3.50" ry="3.50" fill="#5aa6e0" filter="url(#b1)" transform="rotate(0 170.50 417.50)"/>
<ellipse cx="183.40" cy="416.20" rx="5.00" ry="2.00" fill="#eee236" filter="url(#b08)" transform="rotate(0 183.40 416.20)"/>
<ellipse cx="191.00" cy="420.30" rx="4.40" ry="1.90" fill="#eee236" filter="url(#b08)" transform="rotate(0 191.00 420.30)"/>
<ellipse cx="183.60" cy="416.20" rx="2.60" ry="0.80" fill="#ec8a2a" filter="url(#b05)" transform="rotate(0 183.60 416.20)"/>
<ellipse cx="191.00" cy="420.30" rx="1.50" ry="0.60" fill="#e8a030" filter="url(#b05)" transform="rotate(0 191.00 420.30)"/>
<linearGradient id="sg163" x1="0" y1="0" x2="0" y2="1"><stop offset="0" stop-color="#1f3090"/><stop offset="0.08" stop-color="#8a7a60"/><stop offset="0.25" stop-color="#9a8a50"/><stop offset="0.32" stop-color="#7aa860"/><stop offset="0.65" stop-color="#70a8b0"/><stop offset="0.8" stop-color="#5a90d0"/><stop offset="1" stop-color="#1f3090"/></linearGradient>
<rect x="163.7" y="410.8" width="1.1" height="36.69999999999999" fill="url(#sg163)" filter="url(#b03)"/>
<rect x="186.5" y="462.6" width="2" height="0.6" fill="#1f3090" opacity="0.7" filter="url(#b03)"/>
</g>
<g clip-path="url(#cpN)">
<path d="M264.20,424.20 C265.12,423.38 266.17,422.13 267.30,421.10 C268.43,420.07 269.87,418.62 271.00,418.00 C272.13,417.38 272.97,417.20 274.10,417.40 C275.23,417.60 276.57,418.48 277.80,419.20 C279.03,419.92 280.38,421.48 281.50,421.70 C282.62,421.92 282.97,421.02 284.50,420.50 C286.03,419.98 288.85,418.82 290.70,418.60 C292.55,418.38 294.27,418.58 295.60,419.20 C296.93,419.82 297.88,421.17 298.70,422.30 C299.52,423.43 300.30,424.67 300.50,426.00 C300.70,427.33 300.40,428.87 299.90,430.30 C299.40,431.73 298.62,433.37 297.50,434.60 C296.38,435.83 294.75,436.77 293.20,437.70 C291.65,438.63 289.65,439.38 288.20,440.20 C286.75,441.02 285.62,442.60 284.50,442.60 C283.38,442.60 282.52,439.68 281.50,440.20 C280.48,440.72 279.12,444.37 278.40,445.70 C277.68,447.03 277.92,447.28 277.20,448.20 C276.48,449.12 275.13,450.70 274.10,451.20 C273.07,451.70 271.72,451.70 271.00,451.20 C270.28,450.70 270.22,449.32 269.80,448.20 C269.38,447.08 269.33,445.43 268.50,444.50 C267.67,443.57 265.92,443.43 264.80,442.60 C263.68,441.77 262.52,440.32 261.80,439.50 C261.08,438.68 260.40,438.32 260.50,437.70 C260.60,437.08 261.57,436.42 262.40,435.80 C263.23,435.18 265.10,434.92 265.50,434.00 C265.90,433.08 265.32,431.33 264.80,430.30 C264.28,429.27 262.90,428.52 262.40,427.80 C261.90,427.08 261.50,426.60 261.80,426.00 C262.10,425.40 263.28,425.02 264.20,424.20 Z" fill="#1f3090" filter="url(#b04)"/>
<path d="M265.24,424.97 C266.08,424.23 267.05,423.09 268.09,422.15 C269.14,421.21 270.45,419.89 271.50,419.33 C272.54,418.77 273.31,418.60 274.35,418.79 C275.39,418.97 276.62,419.77 277.75,420.42 C278.89,421.08 280.13,422.50 281.16,422.70 C282.18,422.90 282.51,422.08 283.92,421.61 C285.33,421.14 287.92,420.07 289.62,419.88 C291.32,419.68 292.90,419.86 294.13,420.42 C295.36,420.98 296.23,422.21 296.98,423.24 C297.73,424.28 298.45,425.40 298.64,426.61 C298.82,427.82 298.55,429.22 298.09,430.52 C297.63,431.83 296.90,433.31 295.88,434.44 C294.85,435.56 293.35,436.41 291.92,437.26 C290.50,438.11 288.66,438.79 287.32,439.53 C285.99,440.28 284.94,441.72 283.92,441.72 C282.89,441.72 282.09,439.06 281.16,439.53 C280.22,440.00 278.96,443.32 278.31,444.54 C277.65,445.75 277.86,445.98 277.20,446.81 C276.54,447.65 275.30,449.09 274.35,449.54 C273.40,450.00 272.16,450.00 271.50,449.54 C270.84,449.09 270.78,447.83 270.39,446.81 C270.01,445.80 269.96,444.30 269.20,443.45 C268.43,442.60 266.82,442.48 265.79,441.72 C264.77,440.96 263.69,439.64 263.03,438.90 C262.37,438.15 261.75,437.82 261.84,437.26 C261.93,436.70 262.82,436.09 263.59,435.53 C264.35,434.97 266.07,434.73 266.44,433.89 C266.81,433.06 266.27,431.46 265.79,430.52 C265.32,429.58 264.05,428.90 263.59,428.25 C263.13,427.60 262.76,427.16 263.03,426.61 C263.31,426.07 264.40,425.72 265.24,424.97 Z" fill="#3858b4" filter="url(#b06)"/>
<ellipse cx="278.5" cy="430.5" rx="11" ry="5.5" fill="#5a90d8" opacity="0.75" filter="url(#b15)"/>
<ellipse cx="279.00" cy="429.60" rx="9.50" ry="2.40" fill="#5fa0e0" filter="url(#b1)" transform="rotate(0 279.00 429.60)"/>
<ellipse cx="290.80" cy="430.90" rx="7.80" ry="6.00" fill="#6cb8e6" filter="url(#b08)" transform="rotate(0 290.80 430.90)"/>
<ellipse cx="290.90" cy="431.00" rx="5.80" ry="4.50" fill="#8cc43c" filter="url(#b08)" transform="rotate(0 290.90 431.00)"/>
<ellipse cx="291.40" cy="431.00" rx="3.50" ry="2.60" fill="#eee236" filter="url(#b06)" transform="rotate(0 291.40 431.00)"/>
<ellipse cx="291.40" cy="431.00" rx="1.80" ry="1.20" fill="#f08a20" filter="url(#b05)" transform="rotate(0 291.40 431.00)"/>
<ellipse cx="291.50" cy="431.00" rx="1.20" ry="0.80" fill="#e2231a" filter="url(#b04)" transform="rotate(0 291.50 431.00)"/>
<path d="M257.4,410.5 L259.4,410.8 L259.9,420 L261.8,423.6 L259.6,425.5 L259.4,429 L261.6,431.6 L259.6,433.5 L259.3,440 L259.6,462 L257.4,462 Z" fill="#1f3090" filter="url(#b04)"/>
<rect x="257.5" y="413" width="1.6" height="47" fill="#3858b4" filter="url(#b03)"/>
<rect x="257.7" y="420" width="0.8" height="36" fill="#7ab84a" filter="url(#b03)"/>
<path d="M257.5,463.5 L257.5,461.0 L272,460.8 L285,461.3 L288,463.5 Z" fill="#3858b4" filter="url(#b04)"/>
<rect x="263" y="461.9" width="16" height="0.8" fill="#6cb8e6" filter="url(#b03)"/>
</g>
<rect x="69.5" y="396.4" width="68.2" height="67.6" fill="none" stroke="#000" stroke-width="1.5"/>
<rect x="111.5" y="409.7" width="19.1" height="17.2" fill="none" stroke="#222" stroke-width="1.1"/>
<rect x="111.5" y="428.5" width="19.1" height="15.8" fill="none" stroke="#222" stroke-width="1.1"/>
<rect x="111.5" y="426.9" width="19.1" height="1.6" fill="#222"/>
<text x="92.57" y="476.80" font-size="10.43" font-weight="normal" font-style="normal" textLength="21.95" lengthAdjust="spacingAndGlyphs" fill="#111">CD34</text>
<text x="-440.92" y="64.25" font-size="12.50" font-weight="normal" font-style="normal" textLength="21.26" lengthAdjust="spacingAndGlyphs" fill="#111" transform="rotate(-90)">CD38</text>
<rect x="163.1" y="396.4" width="68.2" height="67.6" fill="none" stroke="#000" stroke-width="1.5"/>
<rect x="205.1" y="409.7" width="19.1" height="17.2" fill="none" stroke="#222" stroke-width="1.1"/>
<rect x="205.1" y="428.5" width="19.1" height="15.8" fill="none" stroke="#222" stroke-width="1.1"/>
<rect x="205.1" y="426.9" width="19.1" height="1.6" fill="#222"/>
<text x="186.17" y="476.80" font-size="10.43" font-weight="normal" font-style="normal" textLength="21.95" lengthAdjust="spacingAndGlyphs" fill="#111">CD34</text>
<text x="-440.92" y="157.85" font-size="12.50" font-weight="normal" font-style="normal" textLength="21.26" lengthAdjust="spacingAndGlyphs" fill="#111" transform="rotate(-90)">CD38</text>
<rect x="256.6" y="396.4" width="68.2" height="67.6" fill="none" stroke="#000" stroke-width="1.5"/>
<rect x="299.0" y="409.7" width="19.1" height="17.2" fill="none" stroke="#222" stroke-width="1.1"/>
<rect x="299.0" y="428.5" width="19.1" height="15.8" fill="none" stroke="#222" stroke-width="1.1"/>
<rect x="299.0" y="426.9" width="19.1" height="1.6" fill="#6a6a6a"/>
<text x="279.67" y="476.80" font-size="10.43" font-weight="normal" font-style="normal" textLength="21.95" lengthAdjust="spacingAndGlyphs" fill="#111">CD34</text>
<text x="-440.92" y="251.35" font-size="12.50" font-weight="normal" font-style="normal" textLength="21.26" lengthAdjust="spacingAndGlyphs" fill="#111" transform="rotate(-90)">CD38</text>
<text x="91.66" y="390.00" font-size="10.87" font-weight="normal" font-style="normal" textLength="23.10" lengthAdjust="spacingAndGlyphs" fill="#111">UTD</text>
<text x="176.58" y="389.80" font-size="10.21" font-weight="normal" font-style="normal" textLength="40.99" lengthAdjust="spacingAndGlyphs" fill="#111">BissCAR</text>
<text x="273.89" y="389.80" font-size="10.21" font-weight="normal" font-style="normal" textLength="33.50" lengthAdjust="spacingAndGlyphs" fill="#111">Nb157</text>
<text x="112.24" y="407.20" font-size="8.26" font-weight="normal" font-style="normal" textLength="17.37" lengthAdjust="spacingAndGlyphs" fill="#111">5.51</text>
<text x="112.30" y="454.30" font-size="8.14" font-weight="normal" font-style="normal" textLength="18.08" lengthAdjust="spacingAndGlyphs" fill="#111">1.96</text>
<text x="205.62" y="406.90" font-size="7.71" font-weight="normal" font-style="normal" textLength="17.77" lengthAdjust="spacingAndGlyphs" fill="#111">4.84</text>
<text x="205.82" y="454.30" font-size="7.71" font-weight="normal" font-style="normal" textLength="17.75" lengthAdjust="spacingAndGlyphs" fill="#111">1.37</text>
<text x="299.13" y="406.90" font-size="7.71" font-weight="normal" font-style="normal" textLength="18.06" lengthAdjust="spacingAndGlyphs" fill="#111">0.14</text>
<text x="298.51" y="454.40" font-size="8.86" font-weight="normal" font-style="normal" textLength="18.84" lengthAdjust="spacingAndGlyphs" fill="#111">0.10</text>
<rect x="296" y="446" width="5.3" height="10" fill="#fff"/>
<text x="166.35" y="492.00" font-size="10.90" font-weight="normal" font-style="normal" textLength="155.05" lengthAdjust="spacingAndGlyphs" fill="#111">Gated on hCD45+LIN-Live cells</text>
<text x="72.34" y="532.40" font-size="11.71" font-weight="normal" font-style="normal" textLength="67.26" lengthAdjust="spacingAndGlyphs" fill="#111">CD34+CD38-</text>
<path d="M69.6,616.0 L69.6,565.3 L86.6,565.3 L86.6,616.0" fill="none" stroke="#2f4f92" stroke-width="1.15"/>
<path d="M99.9,616.0 L99.9,593.0 L117.1,593.0 L117.1,616.0" fill="none" stroke="#66ad3e" stroke-width="1.15"/>
<line x1="57.1" y1="543.7" x2="57.1" y2="616.7" stroke="#111" stroke-width="1.6"/>
<line x1="53.6" y1="616.0" x2="154.4" y2="616.0" stroke="#111" stroke-width="1.5"/>
<line x1="53.6" y1="593.0" x2="57.1" y2="593.0" stroke="#111" stroke-width="1.3"/>
<line x1="53.6" y1="570.0" x2="57.1" y2="570.0" stroke="#111" stroke-width="1.3"/>
<line x1="53.6" y1="547.0" x2="57.1" y2="547.0" stroke="#111" stroke-width="1.3"/>
<line x1="77.9" y1="616.0" x2="77.9" y2="619.3" stroke="#111" stroke-width="1.2"/>
<line x1="108.5" y1="616.0" x2="108.5" y2="619.3" stroke="#111" stroke-width="1.2"/>
<line x1="139.1" y1="616.0" x2="139.1" y2="619.3" stroke="#111" stroke-width="1.2"/>
<text x="38.17" y="618.90" font-size="9.10" font-weight="normal" font-style="normal" textLength="12.65" lengthAdjust="spacingAndGlyphs" fill="#111">0.0</text>
<text x="38.17" y="595.90" font-size="9.10" font-weight="normal" font-style="normal" textLength="12.65" lengthAdjust="spacingAndGlyphs" fill="#111">1.0</text>
<text x="38.17" y="572.90" font-size="9.10" font-weight="normal" font-style="normal" textLength="12.65" lengthAdjust="spacingAndGlyphs" fill="#111">2.0</text>
<text x="38.17" y="549.90" font-size="9.10" font-weight="normal" font-style="normal" textLength="12.65" lengthAdjust="spacingAndGlyphs" fill="#111">3.0</text>
<text x="-618.90" y="31.40" font-size="11.03" font-weight="normal" font-style="normal" textLength="78.98" lengthAdjust="spacingAndGlyphs" fill="#111" transform="rotate(-90)">% of hCD45+LIN-live</text>
<line x1="77.8" y1="561.7" x2="77.8" y2="569.2" stroke="#2f4f92" stroke-width="1.2"/>
<line x1="74.6" y1="561.7" x2="81.0" y2="561.7" stroke="#2f4f92" stroke-width="1.2"/>
<line x1="74.6" y1="569.2" x2="81.0" y2="569.2" stroke="#2f4f92" stroke-width="1.2"/>
<path d="M76.6,562.3149999999999 L77.94999999999999,564.745 L75.25,564.745 Z" fill="#2f4f92"/>
<path d="M79.2,562.715 L80.55,565.1450000000001 L77.85000000000001,565.1450000000001 Z" fill="#2f4f92"/>
<path d="M77.5,565.115 L78.85,567.5450000000001 L76.15,567.5450000000001 Z" fill="#2f4f92"/>
<path d="M78.3,570.215 L79.64999999999999,572.6450000000001 L76.95,572.6450000000001 Z" fill="#2f4f92"/>
<line x1="108.5" y1="579.0" x2="108.5" y2="606.7" stroke="#66ad3e" stroke-width="1.2"/>
<line x1="105.0" y1="579.0" x2="112.0" y2="579.0" stroke="#66ad3e" stroke-width="1.2"/>
<line x1="105.0" y1="606.7" x2="112.0" y2="606.7" stroke="#66ad3e" stroke-width="1.2"/>
<circle cx="108.8" cy="579.1" r="1.35" fill="#3f9424"/>
<circle cx="106.8" cy="585.6" r="1.35" fill="#3f9424"/>
<circle cx="110.7" cy="584.4" r="1.35" fill="#3f9424"/>
<circle cx="108.5" cy="598.9" r="1.35" fill="#3f9424"/>
<circle cx="108.5" cy="614.2" r="1.35" fill="#3f9424"/>
<circle cx="135.3" cy="616.0" r="1.7" fill="#b8103a"/>
<circle cx="139.6" cy="616.0" r="1.7" fill="#b8103a"/>
<circle cx="143.9" cy="616.0" r="1.7" fill="#b8103a"/>
<line x1="76.4" y1="548.0" x2="135.8" y2="548.0" stroke="#555" stroke-width="1.5"/>
<polygon points="101.90,543.35 102.40,544.21 103.37,544.42 102.71,545.16 102.81,546.15 101.90,545.75 100.99,546.15 101.09,545.16 100.43,544.42 101.40,544.21" fill="#222"/>
<polygon points="105.80,543.35 106.30,544.21 107.27,544.42 106.61,545.16 106.71,546.15 105.80,545.75 104.89,546.15 104.99,545.16 104.33,544.42 105.30,544.21" fill="#222"/>
<polygon points="109.70,543.35 110.20,544.21 111.17,544.42 110.51,545.16 110.61,546.15 109.70,545.75 108.79,546.15 108.89,545.16 108.23,544.42 109.20,544.21" fill="#222"/>
<line x1="76.4" y1="555.0" x2="107.9" y2="555.0" stroke="#555" stroke-width="1.5"/>
<polygon points="90.20,551.45 90.70,552.31 91.67,552.52 91.01,553.26 91.11,554.25 90.20,553.85 89.29,554.25 89.39,553.26 88.73,552.52 89.70,552.31" fill="#222"/>
<polygon points="93.90,551.45 94.40,552.31 95.37,552.52 94.71,553.26 94.81,554.25 93.90,553.85 92.99,554.25 93.09,553.26 92.43,552.52 93.40,552.31" fill="#222"/>
<line x1="106.4" y1="561.9" x2="138.7" y2="561.9" stroke="#555" stroke-width="1.5"/>
<polygon points="118.70,557.15 119.20,558.01 120.17,558.22 119.51,558.96 119.61,559.95 118.70,559.55 117.79,559.95 117.89,558.96 117.23,558.22 118.20,558.01" fill="#222"/>
<polygon points="122.40,557.15 122.90,558.01 123.87,558.22 123.21,558.96 123.31,559.95 122.40,559.55 121.49,559.95 121.59,558.96 120.93,558.22 121.90,558.01" fill="#222"/>
<polygon points="126.10,557.15 126.60,558.01 127.57,558.22 126.91,558.96 127.01,559.95 126.10,559.55 125.19,559.95 125.29,558.96 124.63,558.22 125.60,558.01" fill="#222"/>
<text x="80.70" y="627.40" font-size="9.3" text-anchor="end" textLength="18.0" lengthAdjust="spacingAndGlyphs" fill="#111" transform="rotate(-45 80.70 627.40)">UTD</text>
<text x="111.30" y="627.40" font-size="9.3" text-anchor="end" textLength="31.5" lengthAdjust="spacingAndGlyphs" fill="#111" transform="rotate(-45 111.30 627.40)">BissCAR</text>
<text x="141.90" y="627.40" font-size="9.3" text-anchor="end" textLength="25.5" lengthAdjust="spacingAndGlyphs" fill="#111" transform="rotate(-45 141.90 627.40)">Nb157</text>
<text x="227.64" y="532.10" font-size="11.29" font-weight="normal" font-style="normal" textLength="69.83" lengthAdjust="spacingAndGlyphs" fill="#111">CD34+CD38+</text>
<path d="M223.8,616.0 L223.8,565.4 L241.4,565.4 L241.4,616.0" fill="none" stroke="#2f4f92" stroke-width="1.15"/>
<path d="M256.5,616.0 L256.5,581.3 L274.6,581.3 L274.6,616.0" fill="none" stroke="#66ad3e" stroke-width="1.15"/>
<line x1="214.2" y1="544.8" x2="214.2" y2="616.7" stroke="#111" stroke-width="1.6"/>
<line x1="210.7" y1="616.0" x2="311.6" y2="616.0" stroke="#111" stroke-width="1.5"/>
<line x1="210.7" y1="598.65" x2="214.2" y2="598.65" stroke="#111" stroke-width="1.3"/>
<line x1="210.7" y1="581.3" x2="214.2" y2="581.3" stroke="#111" stroke-width="1.3"/>
<line x1="210.7" y1="563.95" x2="214.2" y2="563.95" stroke="#111" stroke-width="1.3"/>
<line x1="210.7" y1="546.6" x2="214.2" y2="546.6" stroke="#111" stroke-width="1.3"/>
<line x1="232.6" y1="616.0" x2="232.6" y2="619.3" stroke="#111" stroke-width="1.2"/>
<line x1="265.5" y1="616.0" x2="265.5" y2="619.3" stroke="#111" stroke-width="1.2"/>
<line x1="296.6" y1="616.0" x2="296.6" y2="619.3" stroke="#111" stroke-width="1.2"/>
<text x="195.57" y="618.90" font-size="9.10" font-weight="normal" font-style="normal" textLength="12.65" lengthAdjust="spacingAndGlyphs" fill="#111">0.0</text>
<text x="195.57" y="601.55" font-size="9.10" font-weight="normal" font-style="normal" textLength="12.65" lengthAdjust="spacingAndGlyphs" fill="#111">2.0</text>
<text x="195.57" y="584.20" font-size="9.10" font-weight="normal" font-style="normal" textLength="12.65" lengthAdjust="spacingAndGlyphs" fill="#111">4.0</text>
<text x="195.57" y="566.85" font-size="9.10" font-weight="normal" font-style="normal" textLength="12.65" lengthAdjust="spacingAndGlyphs" fill="#111">6.0</text>
<text x="195.57" y="549.50" font-size="9.10" font-weight="normal" font-style="normal" textLength="12.65" lengthAdjust="spacingAndGlyphs" fill="#111">8.0</text>
<text x="-619.60" y="188.80" font-size="10.76" font-weight="normal" font-style="normal" textLength="79.89" lengthAdjust="spacingAndGlyphs" fill="#111" transform="rotate(-90)">% of hCD45+LIN-live</text>
<line x1="232.4" y1="561.0" x2="232.4" y2="570.9" stroke="#2f4f92" stroke-width="1.2"/>
<line x1="228.9" y1="561.0" x2="235.9" y2="561.0" stroke="#2f4f92" stroke-width="1.2"/>
<line x1="228.9" y1="570.9" x2="235.9" y2="570.9" stroke="#2f4f92" stroke-width="1.2"/>
<path d="M232.4,556.915 L233.75,559.345 L231.05,559.345 Z" fill="#2f4f92"/>
<path d="M230.8,564.515 L232.15,566.945 L229.45000000000002,566.945 Z" fill="#2f4f92"/>
<path d="M234,564.515 L235.35,566.945 L232.65,566.945 Z" fill="#2f4f92"/>
<path d="M231.2,568.515 L232.54999999999998,570.945 L229.85,570.945 Z" fill="#2f4f92"/>
<path d="M234.2,568.515 L235.54999999999998,570.945 L232.85,570.945 Z" fill="#2f4f92"/>
<line x1="265.5" y1="575.2" x2="265.5" y2="584.4" stroke="#66ad3e" stroke-width="1.2"/>
<line x1="262.0" y1="575.2" x2="269.0" y2="575.2" stroke="#66ad3e" stroke-width="1.2"/>
<line x1="262.0" y1="584.4" x2="269.0" y2="584.4" stroke="#66ad3e" stroke-width="1.2"/>
<circle cx="262.1" cy="577.8" r="1.35" fill="#3f9424"/>
<circle cx="265.5" cy="578.2" r="1.35" fill="#3f9424"/>
<circle cx="269.5" cy="574.7" r="1.35" fill="#3f9424"/>
<circle cx="267" cy="584.4" r="1.35" fill="#3f9424"/>
<circle cx="264.3" cy="588.2" r="1.35" fill="#3f9424"/>
<circle cx="292.9" cy="616.0" r="1.7" fill="#b8103a"/>
<circle cx="296.6" cy="616.0" r="1.7" fill="#b8103a"/>
<circle cx="300.5" cy="616.0" r="1.7" fill="#b8103a"/>
<line x1="233.4" y1="546.3" x2="293.9" y2="546.3" stroke="#222" stroke-width="1.2"/>
<polygon points="256.90,542.20 257.35,542.98 258.23,543.17 257.63,543.84 257.72,544.73 256.90,544.37 256.08,544.73 256.17,543.84 255.57,543.17 256.45,542.98" fill="#222"/>
<polygon points="260.60,542.20 261.05,542.98 261.93,543.17 261.33,543.84 261.42,544.73 260.60,544.37 259.78,544.73 259.87,543.84 259.27,543.17 260.15,542.98" fill="#222"/>
<polygon points="264.30,542.20 264.75,542.98 265.63,543.17 265.03,543.84 265.12,544.73 264.30,544.37 263.48,544.73 263.57,543.84 262.97,543.17 263.85,542.98" fill="#222"/>
<line x1="233.4" y1="553.5" x2="265.7" y2="553.5" stroke="#222" stroke-width="1.2"/>
<polygon points="254.00,549.90 254.45,550.68 255.33,550.87 254.73,551.54 254.82,552.43 254.00,552.07 253.18,552.43 253.27,551.54 252.67,550.87 253.55,550.68" fill="#222"/>
<line x1="264.3" y1="560.2" x2="296.6" y2="560.2" stroke="#222" stroke-width="1.2"/>
<polygon points="275.80,556.00 276.25,556.78 277.13,556.97 276.53,557.64 276.62,558.53 275.80,558.17 274.98,558.53 275.07,557.64 274.47,556.97 275.35,556.78" fill="#222"/>
<polygon points="279.50,556.00 279.95,556.78 280.83,556.97 280.23,557.64 280.32,558.53 279.50,558.17 278.68,558.53 278.77,557.64 278.17,556.97 279.05,556.78" fill="#222"/>
<polygon points="283.20,556.00 283.65,556.78 284.53,556.97 283.93,557.64 284.02,558.53 283.20,558.17 282.38,558.53 282.47,557.64 281.87,556.97 282.75,556.78" fill="#222"/>
<text x="235.40" y="627.40" font-size="9.3" text-anchor="end" textLength="18.0" lengthAdjust="spacingAndGlyphs" fill="#111" transform="rotate(-45 235.40 627.40)">UTD</text>
<text x="268.30" y="627.40" font-size="9.3" text-anchor="end" textLength="31.5" lengthAdjust="spacingAndGlyphs" fill="#111" transform="rotate(-45 268.30 627.40)">BissCAR</text>
<text x="299.40" y="627.40" font-size="9.3" text-anchor="end" textLength="25.5" lengthAdjust="spacingAndGlyphs" fill="#111" transform="rotate(-45 299.40 627.40)">Nb157</text>
<text x="399.10" y="531.80" font-size="10.00" font-weight="normal" font-style="normal" textLength="54.60" lengthAdjust="spacingAndGlyphs" fill="#111">Monocytes</text>
<path d="M389.6,616.0 L389.6,566.1 L408.8,566.1 L408.8,616.0" fill="none" stroke="#2f4f92" stroke-width="1.15"/>
<path d="M417.9,616.0 L417.9,604.4 L437.5,604.4 L437.5,616.0" fill="none" stroke="#66ad3e" stroke-width="1.15"/>
<line x1="380.4" y1="541.8" x2="380.4" y2="578.1" stroke="#111" stroke-width="1.6"/>
<line x1="380.4" y1="583.1" x2="380.4" y2="616.7" stroke="#111" stroke-width="1.6"/>
<line x1="377.2" y1="578.1" x2="383.9" y2="578.1" stroke="#111" stroke-width="1.5"/>
<line x1="377.2" y1="583.1" x2="383.9" y2="583.1" stroke="#111" stroke-width="1.5"/>
<line x1="377.0" y1="616.0" x2="470" y2="616.0" stroke="#111" stroke-width="1.5"/>
<line x1="377.2" y1="573.8" x2="380.4" y2="573.8" stroke="#111" stroke-width="1.3"/>
<line x1="377.2" y1="564.1" x2="380.4" y2="564.1" stroke="#111" stroke-width="1.3"/>
<line x1="377.2" y1="554.5" x2="380.4" y2="554.5" stroke="#111" stroke-width="1.3"/>
<line x1="377.2" y1="544.9" x2="380.4" y2="544.9" stroke="#111" stroke-width="1.3"/>
<line x1="377.2" y1="606.4" x2="380.4" y2="606.4" stroke="#111" stroke-width="1.3"/>
<line x1="377.2" y1="596.8" x2="380.4" y2="596.8" stroke="#111" stroke-width="1.3"/>
<line x1="377.2" y1="586.9" x2="380.4" y2="586.9" stroke="#111" stroke-width="1.3"/>
<line x1="399.1" y1="616.0" x2="399.1" y2="619.3" stroke="#111" stroke-width="1.2"/>
<line x1="427.6" y1="616.0" x2="427.6" y2="619.3" stroke="#111" stroke-width="1.2"/>
<line x1="456.0" y1="616.0" x2="456.0" y2="619.3" stroke="#111" stroke-width="1.2"/>
<text x="363.32" y="576.95" font-size="9.10" font-weight="normal" font-style="normal" textLength="10.12" lengthAdjust="spacingAndGlyphs" fill="#111">50</text>
<text x="358.27" y="567.25" font-size="9.10" font-weight="normal" font-style="normal" textLength="15.18" lengthAdjust="spacingAndGlyphs" fill="#111">100</text>
<text x="358.27" y="557.65" font-size="9.10" font-weight="normal" font-style="normal" textLength="15.18" lengthAdjust="spacingAndGlyphs" fill="#111">150</text>
<text x="358.27" y="548.05" font-size="9.10" font-weight="normal" font-style="normal" textLength="15.18" lengthAdjust="spacingAndGlyphs" fill="#111">200</text>
<text x="360.77" y="619.05" font-size="9.10" font-weight="normal" font-style="normal" textLength="12.65" lengthAdjust="spacingAndGlyphs" fill="#111">0.0</text>
<text x="360.77" y="609.55" font-size="9.10" font-weight="normal" font-style="normal" textLength="12.65" lengthAdjust="spacingAndGlyphs" fill="#111">5.0</text>
<text x="355.72" y="599.95" font-size="9.10" font-weight="normal" font-style="normal" textLength="17.71" lengthAdjust="spacingAndGlyphs" fill="#111">10.0</text>
<text x="355.72" y="590.05" font-size="9.10" font-weight="normal" font-style="normal" textLength="17.71" lengthAdjust="spacingAndGlyphs" fill="#111">15.0</text>
<text x="-606.05" y="336.10" font-size="9.93" font-weight="normal" font-style="normal" textLength="48.86" lengthAdjust="spacingAndGlyphs" fill="#111" transform="rotate(-90)">CD33+ cells</text>
<text x="-608.96" y="349.60" font-size="10.21" font-weight="normal" font-style="normal" textLength="56.72" lengthAdjust="spacingAndGlyphs" fill="#111" transform="rotate(-90)">per 10uL blood</text>
<line x1="399.1" y1="561.5" x2="399.1" y2="570.6" stroke="#2f4f92" stroke-width="1.2"/>
<line x1="395.0" y1="561.5" x2="403.20000000000005" y2="561.5" stroke="#2f4f92" stroke-width="1.2"/>
<line x1="395.0" y1="570.6" x2="403.20000000000005" y2="570.6" stroke="#2f4f92" stroke-width="1.2"/>
<path d="M399.1,549.615 L400.45000000000005,552.0450000000001 L397.75,552.0450000000001 Z" fill="#2f4f92"/>
<path d="M401.5,561.8149999999999 L402.85,564.245 L400.15,564.245 Z" fill="#2f4f92"/>
<path d="M398,566.415 L399.35,568.845 L396.65,568.845 Z" fill="#2f4f92"/>
<path d="M400.6,569.115 L401.95000000000005,571.5450000000001 L399.25,571.5450000000001 Z" fill="#2f4f92"/>
<path d="M399.6,576.415 L400.95000000000005,578.845 L398.25,578.845 Z" fill="#2f4f92"/>
<line x1="427.6" y1="599.3" x2="427.6" y2="610.3" stroke="#66ad3e" stroke-width="1.2"/>
<line x1="423.3" y1="599.3" x2="431.90000000000003" y2="599.3" stroke="#66ad3e" stroke-width="1.2"/>
<line x1="423.3" y1="610.3" x2="431.90000000000003" y2="610.3" stroke="#66ad3e" stroke-width="1.2"/>
<circle cx="427.6" cy="584.0" r="1.35" fill="#3f9424"/>
<circle cx="427.6" cy="604.0" r="1.35" fill="#3f9424"/>
<circle cx="425.3" cy="609.0" r="1.35" fill="#3f9424"/>
<circle cx="430" cy="609.9" r="1.35" fill="#3f9424"/>
<circle cx="427.8" cy="615.4" r="1.35" fill="#3f9424"/>
<circle cx="452.6" cy="616.0" r="1.7" fill="#b8103a"/>
<circle cx="456.0" cy="616.0" r="1.7" fill="#b8103a"/>
<circle cx="459.5" cy="616.0" r="1.7" fill="#b8103a"/>
<line x1="398.1" y1="540.5" x2="452.8" y2="540.5" stroke="#333" stroke-width="1.3"/>
<polygon points="421.00,536.95 421.47,537.75 422.38,537.95 421.76,538.65 421.85,539.57 421.00,539.20 420.15,539.57 420.24,538.65 419.62,537.95 420.53,537.75" fill="#222"/>
<polygon points="424.80,536.95 425.27,537.75 426.18,537.95 425.56,538.65 425.65,539.57 424.80,539.20 423.95,539.57 424.04,538.65 423.42,537.95 424.33,537.75" fill="#222"/>
<line x1="398.1" y1="547.8" x2="427.3" y2="547.8" stroke="#333" stroke-width="1.3"/>
<polygon points="415.40,544.25 415.87,545.05 416.78,545.25 416.16,545.95 416.25,546.87 415.40,546.50 414.55,546.87 414.64,545.95 414.02,545.25 414.93,545.05" fill="#222"/>
<line x1="426.3" y1="555.1" x2="455.9" y2="555.1" stroke="#333" stroke-width="1.3"/>
<polygon points="441.50,551.45 441.97,552.25 442.88,552.45 442.26,553.15 442.35,554.07 441.50,553.70 440.65,554.07 440.74,553.15 440.12,552.45 441.03,552.25" fill="#222"/>
<text x="401.90" y="627.40" font-size="9.3" text-anchor="end" textLength="18.0" lengthAdjust="spacingAndGlyphs" fill="#111" transform="rotate(-45 401.90 627.40)">UTD</text>
<text x="430.40" y="627.40" font-size="9.3" text-anchor="end" textLength="31.5" lengthAdjust="spacingAndGlyphs" fill="#111" transform="rotate(-45 430.40 627.40)">BissCAR</text>
<text x="458.80" y="627.40" font-size="9.3" text-anchor="end" textLength="25.5" lengthAdjust="spacingAndGlyphs" fill="#111" transform="rotate(-45 458.80 627.40)">Nb157</text></svg></body></html>
